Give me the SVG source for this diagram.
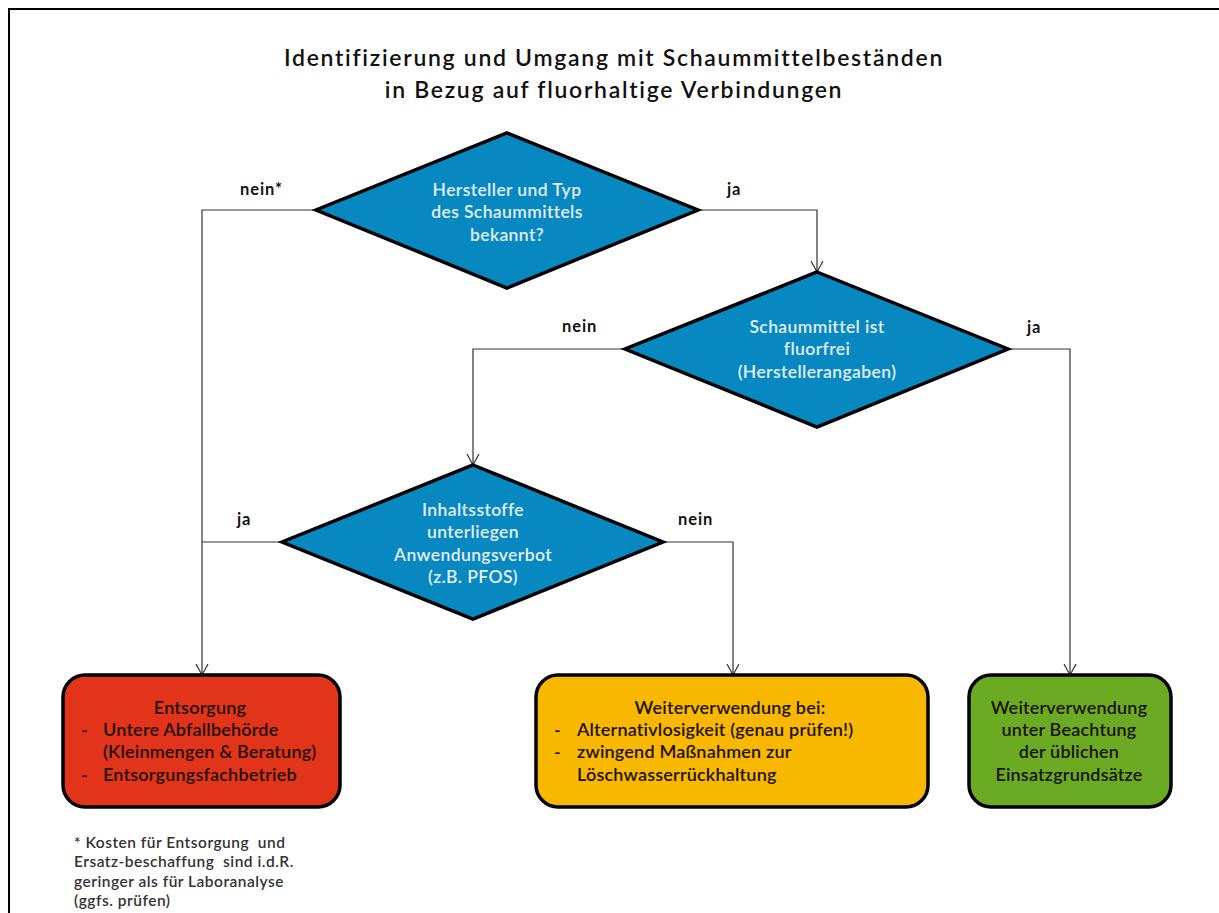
<svg xmlns="http://www.w3.org/2000/svg" width="1219" height="913" viewBox="0 0 1219 913">
<style>
text{font-family:Lato,"Open Sans","Liberation Sans",sans-serif}
.title{font-size:23px;font-weight:600;fill:#111;text-anchor:middle;letter-spacing:1.7px}
.dia{fill:#0788c1;stroke:#000;stroke-width:3.5;stroke-linejoin:miter}
.dt{font-size:17.5px;font-weight:600;fill:#e3eef7;text-anchor:middle;letter-spacing:0.4px}
.box{stroke:#000;stroke-width:3.5}
.bt{font-size:18px;font-weight:600;fill:#1e1206;letter-spacing:0.2px}
.c{text-anchor:middle}
.lbl{font-size:16.5px;font-weight:700;fill:#111;letter-spacing:0.9px}
.con{fill:none;stroke:#333;stroke-width:1.2}
.foot{font-size:15.5px;font-weight:600;fill:#333;letter-spacing:0.5px}
</style>
<defs>
<marker id="arr" markerWidth="14" markerHeight="14" refX="11" refY="7" orient="auto" markerUnits="userSpaceOnUse" viewBox="0 0 14 14">
<path d="M0,1 L11,7 L0,13" fill="none" stroke="#333" stroke-width="1.2"/>
</marker>
</defs>
<rect x="0" y="0" width="1219" height="913" fill="#fff"/>
<rect x="9" y="9" width="1212" height="920" fill="none" stroke="#000" stroke-width="2"/>
<g id="title">
<text class="title" x="614" y="66">Identifizierung und Umgang mit Schaummittelbeständen</text>
<text class="title" x="614" y="98">in Bezug auf fluorhaltige Verbindungen</text>
</g>
<g id="connectors">
<path class="con" d="M316,210 H202 V675" marker-end="url(#arr)"/>
<path class="con" d="M282,542 H202"/>
<path class="con" d="M698,210 H817 V272" marker-end="url(#arr)"/>
<path class="con" d="M625,349 H473 V465" marker-end="url(#arr)"/>
<path class="con" d="M1008,349 H1070 V675" marker-end="url(#arr)"/>
<path class="con" d="M663,542 H733 V675" marker-end="url(#arr)"/>
<text class="lbl" x="240" y="195">nein*</text>
<text class="lbl" x="727" y="195">ja</text>
<text class="lbl" x="562" y="332">nein</text>
<text class="lbl" x="1027" y="333">ja</text>
<text class="lbl" x="237" y="525">ja</text>
<text class="lbl" x="678" y="525">nein</text>
</g>
<g id="d1">
<polygon class="dia" points="507,133 698,210 507,288 316,210"/>
<text class="dt" x="507" y="196">Hersteller und Typ</text>
<text class="dt" x="507" y="218">des Schaummittels</text>
<text class="dt" x="507" y="241">bekannt?</text>
</g>
<g id="d2">
<polygon class="dia" points="817,272 1008,349 817,427 625,349"/>
<text class="dt" x="817" y="333">Schaummittel ist</text>
<text class="dt" x="817" y="355">fluorfrei</text>
<text class="dt" x="817" y="378">(Herstellerangaben)</text>
</g>
<g id="d3">
<polygon class="dia" points="473,465 663,542 473,619 282,542"/>
<text class="dt" x="473" y="516">Inhaltsstoffe</text>
<text class="dt" x="473" y="538">unterliegen</text>
<text class="dt" x="473" y="561">Anwendungsverbot</text>
<text class="dt" x="473" y="583">(z.B. PFOS)</text>
</g>
<g id="red">
<rect class="box" x="63" y="675" width="277" height="132" rx="22" fill="#e1341a"/>
<text class="bt c" x="200" y="714">Entsorgung</text>
<text class="bt" x="81" y="736">-</text>
<text class="bt" x="103" y="736">Untere Abfallbehörde</text>
<text class="bt" x="103" y="758">(Kleinmengen &amp; Beratung)</text>
<text class="bt" x="81" y="781">-</text>
<text class="bt" x="103" y="781">Entsorgungsfachbetrieb</text>
</g>
<g id="yellow">
<rect class="box" x="536" y="675" width="392" height="132" rx="22" fill="#f8b800"/>
<text class="bt c" x="730" y="714">Weiterverwendung bei:</text>
<text class="bt" x="554" y="736">-</text>
<text class="bt" x="577" y="736">Alternativlosigkeit (genau prüfen!)</text>
<text class="bt" x="554" y="758">-</text>
<text class="bt" x="577" y="758">zwingend Maßnahmen zur</text>
<text class="bt" x="577" y="781">Löschwasserrückhaltung</text>
</g>
<g id="green">
<rect class="box" x="969" y="675" width="202" height="132" rx="22" fill="#6aab23"/>
<text class="bt c" x="1069" y="714">Weiterverwendung</text>
<text class="bt c" x="1069" y="736">unter Beachtung</text>
<text class="bt c" x="1069" y="758">der üblichen</text>
<text class="bt c" x="1069" y="781">Einsatzgrundsätze</text>
</g>
<g id="footnote">
<text class="foot" x="74" y="848" xml:space="preserve">* Kosten für Entsorgung  und</text>
<text class="foot" x="74" y="867" xml:space="preserve">Ersatz-beschaffung  sind i.d.R.</text>
<text class="foot" x="74" y="887">geringer als für Laboranalyse</text>
<text class="foot" x="74" y="906">(ggfs. prüfen)</text>
</g>
</svg>
